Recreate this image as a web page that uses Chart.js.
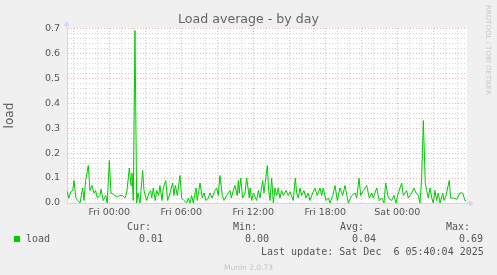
<!DOCTYPE html>
<html>
<head>
<meta charset="utf-8">
<script src="https://cdn.jsdelivr.net/npm/chart.js@4.4.1/dist/chart.umd.min.js"></script>
<style>
  body { margin: 0; background: #f0f0f0; }
  #wrap { position: relative; width: 497px; height: 275px; overflow: hidden; }
  #wrap canvas { position: absolute; left: 0; top: 0; }
  .t { position: absolute; font: 10px "DejaVu Sans Mono", monospace; color: #555; line-height: 12px; white-space: pre; }
  .sw { position: absolute; left: 14px; top: 236px; width: 6px; height: 6px; background: #00cc00; }
  #rrd { position: absolute; left: 483px; top: 5px; writing-mode: vertical-rl; font: 7px "DejaVu Sans", sans-serif; color: #c8c8c8; white-space: nowrap; line-height: 9px; }
  #munin { position: absolute; left: 0; width: 497px; top: 263px; text-align: center; font: 7.5px "DejaVu Sans", sans-serif; color: #c4c4c4; line-height: 9px; }
</style>
</head>
<body>
<div id="wrap">
  <canvas id="myChart" width="497" height="275"></canvas>
  <div id="rrd">RRDTOOL / TOBI OETIKER</div>
  <div class="t" style="left:127px;top:221px">Cur:</div>
  <div class="t" style="left:233px;top:221px">Min:</div>
  <div class="t" style="left:340px;top:221px">Avg:</div>
  <div class="t" style="left:446px;top:221px">Max:</div>
  <div class="sw"></div>
  <div class="t" style="left:26px;top:233px">load</div>
  <div class="t" id="vCur" style="left:139px;top:233px"></div>
  <div class="t" id="vMin" style="left:245px;top:233px"></div>
  <div class="t" id="vAvg" style="left:352px;top:233px"></div>
  <div class="t" id="vMax" style="left:459px;top:233px"></div>
  <div class="t" style="left:261px;top:246px">Last update: Sat Dec  6 05:40:04 2025</div>
  <div id="munin">Munin 2.0.73</div>
</div>
<script>
// time in hours relative to Fri 00:00
const hours = [
  -3.55, -3.36, -3.22, -3.05, -2.94, -2.78, -2.64, -2.44, -2.22, -2.11,
  -1.97, -1.75, -1.61, -1.44, -1.28, -1.14, -1.0, -0.78, -0.69, -0.5,
  -0.3, -0.17, 0.0, 0.14, 0.33, 0.47, 0.67, 0.89, 1.11, 1.31,
  1.45, 1.67, 1.81, 1.89, 2.0, 2.14, 2.28, 2.39, 2.56, 2.78,
  2.89, 3.11, 3.31, 3.45, 3.53, 3.67, 3.83, 3.95, 4.12, 4.22,
  4.39, 4.5, 4.7, 4.86, 5.06, 5.28, 5.39, 5.5, 5.67, 5.89,
  6.03, 6.22, 6.45, 6.58, 6.72, 6.86, 7.0, 7.22, 7.33, 7.56,
  7.75, 7.89, 8.06, 8.25, 8.39, 8.56, 8.81, 8.95, 9.08, 9.22,
  9.42, 9.56, 9.78, 10.06, 10.17, 10.33, 10.47, 10.67, 10.75, 10.83,
  10.95, 11.11, 11.31, 11.45, 11.67, 11.73, 11.87, 12.0, 12.28, 12.42,
  12.56, 12.78, 12.89, 13.17, 13.28, 13.39, 13.53, 13.67, 13.81, 13.95,
  14.08, 14.22, 14.36, 14.5, 14.73, 14.92, 15.06, 15.33, 15.5, 15.62,
  15.75, 15.89, 16.03, 16.22, 16.39, 16.58, 16.72, 16.95, 17.14, 17.33,
  17.56, 17.7, 17.83, 18.06, 18.25, 18.39, 18.62, 18.81, 19.0, 19.22,
  19.45, 19.64, 19.92, 20.2, 20.47, 20.62, 20.81, 20.95, 21.17, 21.45,
  21.67, 21.87, 22.0, 22.28, 22.5, 22.7, 22.89, 23.03, 23.25, 23.53,
  23.72, 23.89, 24.08, 24.37, 24.5, 24.78, 24.92, 25.2, 25.39, 25.56,
  25.75, 25.89, 26.03, 26.17, 26.33, 26.45, 26.58, 26.72, 26.87, 27.0,
  27.14, 27.28, 27.42, 27.56, 27.78, 27.89, 28.06, 28.33, 28.45, 28.67,
  28.95, 29.22, 29.45, 29.64, 29.72
];
const load = [
  0.05, 0.02, 0.045, 0.05, 0.09, 0.02, 0.01, 0.0, 0.06, 0.01,
  0.09, 0.15, 0.05, 0.07, 0.04, 0.05, 0.02, 0.03, 0.055, 0.01,
  0.03, 0.0, 0.17, 0.04, 0.035, 0.03, 0.025, 0.03, 0.03, 0.02,
  0.04, 0.14, 0.07, 0.12, 0.01, 0.69, 0.0, 0.04, 0.0, 0.13,
  0.05, 0.01, 0.04, 0.05, 0.02, 0.06, 0.01, 0.05, 0.03, 0.07,
  0.01, 0.06, 0.09, 0.01, 0.04, 0.08, 0.03, 0.07, 0.03, 0.11,
  0.02, 0.01, 0.0, 0.02, 0.0, 0.03, 0.0, 0.06, 0.01, 0.08,
  0.02, 0.04, 0.01, 0.02, 0.04, 0.02, 0.05, 0.06, 0.03, 0.11,
  0.03, 0.01, 0.03, 0.05, 0.02, 0.05, 0.07, 0.03, 0.09, 0.04,
  0.10, 0.02, 0.04, 0.10, 0.02, 0.06, 0.01, 0.04, 0.01, 0.05,
  0.02, 0.09, 0.04, 0.15, 0.05, 0.01, 0.10, 0.0, 0.06, 0.03,
  0.06, 0.02, 0.05, 0.03, 0.05, 0.03, 0.045, 0.01, 0.10, 0.04,
  0.02, 0.06, 0.03, 0.05, 0.02, 0.04, 0.01, 0.04, 0.06, 0.03,
  0.06, 0.03, 0.06, 0.01, 0.02, 0.0, 0.03, 0.07, 0.01, 0.06,
  0.03, 0.07, 0.0, 0.03, 0.04, 0.02, 0.10, 0.03, 0.05, 0.07,
  0.02, 0.04, 0.02, 0.06, 0.01, 0.02, 0.0, 0.08, 0.02, 0.01,
  0.03, 0.0, 0.04, 0.08, 0.03, 0.05, 0.02, 0.04, 0.06, 0.04,
  0.03, 0.0, 0.10, 0.33, 0.08, 0.05, 0.02, 0.06, 0.02, 0.0,
  0.05, 0.01, 0.04, 0.0, 0.04, 0.01, 0.03, 0.09, 0.02, 0.02,
  0.015, 0.04, 0.04, 0.01, 0.01
];
const xTickHours = [0, 6, 12, 18, 24];
const xTickLabels = ["Fri 00:00", "Fri 06:00", "Fri 12:00", "Fri 18:00", "Sat 00:00"];
const yTicks = [0, 0.1, 0.2, 0.3, 0.4, 0.5, 0.6, 0.7];
const stats = { cur: "0.01", min: "0.00", avg: "0.04", max: "0.69" };

document.getElementById("vCur").textContent = stats.cur;
document.getElementById("vMin").textContent = stats.min;
document.getElementById("vAvg").textContent = stats.avg;
document.getElementById("vMax").textContent = stats.max;

const MAJOR = "rgba(240,120,120,0.6)";
const MINOR = "rgba(180,180,180,0.6)";
const AXIS = "#cfd6f8";

// white canvas behind plot + axis arrows
const munin = {
  id: "munin",
  beforeDraw(chart) {
    const { ctx, chartArea: a } = chart;
    ctx.save();
    ctx.fillStyle = "#ffffff";
    ctx.fillRect(a.left, a.top, a.right - a.left, a.bottom - a.top);
    ctx.restore();
  },
  afterDraw(chart) {
    const { ctx, chartArea: a } = chart;
    ctx.save();
    ctx.strokeStyle = AXIS;
    ctx.fillStyle = AXIS;
    ctx.lineWidth = 1;
    ctx.beginPath();
    ctx.moveTo(a.left - 0.5, a.top);
    ctx.lineTo(a.left - 0.5, a.top - 3);
    ctx.moveTo(a.right, a.bottom + 0.5);
    ctx.lineTo(a.right + 3, a.bottom + 0.5);
    ctx.stroke();
    ctx.beginPath();
    ctx.moveTo(a.left - 3.5, a.top - 2);
    ctx.lineTo(a.left + 2.5, a.top - 2);
    ctx.lineTo(a.left - 0.5, a.top - 7);
    ctx.closePath();
    ctx.fill();
    ctx.beginPath();
    ctx.moveTo(a.right + 2, a.bottom - 2.5);
    ctx.lineTo(a.right + 2, a.bottom + 3.5);
    ctx.lineTo(a.right + 7, a.bottom + 0.5);
    ctx.closePath();
    ctx.fill();
    ctx.restore();
  }
};

const config = {
  type: "line",
  data: {
    datasets: [{
      label: "load",
      data: hours.map((h, i) => ({ x: h, y: load[i] })),
      borderColor: "#00cc00",
      borderWidth: 1,
      pointRadius: 0,
      tension: 0,
      fill: false
    }]
  },
  options: {
    responsive: false,
    animation: false,
    // symmetric side padding so the title centres on the whole image
    layout: { padding: { left: 30, right: 30, top: 0, bottom: 0 } },
    plugins: {
      legend: { display: false },
      tooltip: { enabled: false },
      title: {
        display: true,
        text: "Load average - by day",
        color: "#666",
        font: { family: "DejaVu Sans", size: 12.6, weight: "normal" },
        padding: { top: 12, bottom: 1 }
      }
    },
    scales: {
      x: {
        type: "linear",
        min: -3.525,
        max: 29.808,
        afterFit: (s) => { s.height = 72; },
        border: { display: true, color: AXIS, width: 1, dash: [1, 2] },
        grid: {
          drawTicks: false,
          color: (c) => (Math.round(c.tick.value) % 3 === 0 ? MAJOR : MINOR)
        },
        ticks: {
          stepSize: 1,
          includeBounds: false,
          autoSkip: false,
          maxRotation: 0,
          padding: 4,
          color: "#555",
          font: { family: "DejaVu Sans", size: 9.5 },
          callback: (v) => {
            const i = xTickHours.indexOf(Math.round(v));
            return i >= 0 ? xTickLabels[i] : "";
          }
        }
      },
      y: {
        min: 0,
        max: 0.7,
        afterFit: (s) => { s.width = 37; },
        border: { display: true, color: AXIS, width: 1, dash: [1, 2] },
        title: {
          display: true,
          text: "load",
          color: "#555",
          font: { family: "DejaVu Sans", size: 12 },
          padding: { top: -27, bottom: 0 }
        },
        grid: {
          drawTicks: false,
          color: (c) => (Math.round(c.tick.value * 50) % 5 === 0 ? MAJOR : MINOR)
        },
        ticks: {
          stepSize: 0.02,
          autoSkip: false,
          padding: 7,
          color: "#555",
          font: { family: "DejaVu Sans", size: 9.5 },
          callback: (v) => {
            const t = yTicks.find((y) => Math.abs(y - v) < 1e-6);
            return t !== undefined ? t.toFixed(1) : "";
          }
        }
      }
    }
  },
  plugins: [munin]
};

const myChart = new Chart(document.getElementById("myChart"), config);
</script>
</body>
</html>
